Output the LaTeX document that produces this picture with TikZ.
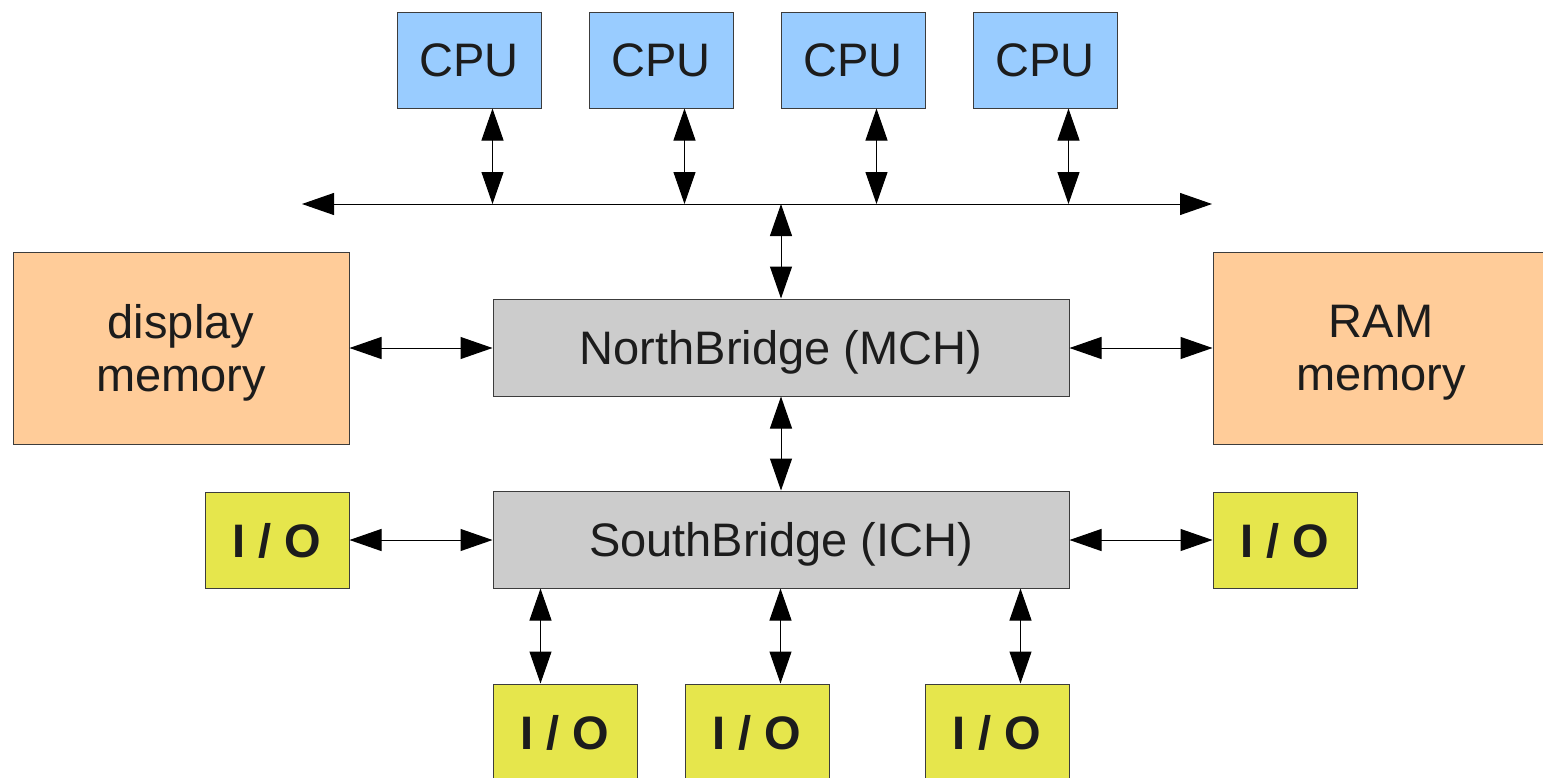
\documentclass[tikz,border=0pt]{standalone}
\usepackage{fontspec}
\setmainfont{Liberation Sans}
\usetikzlibrary{arrows.meta}
\definecolor{cpublue}{HTML}{99CCFF}
\definecolor{memorange}{HTML}{FFCC99}
\definecolor{bridgegray}{HTML}{CCCCCC}
\definecolor{ioyellow}{HTML}{E6E64C}
\definecolor{edgegray}{HTML}{3C3C3C}
\definecolor{textdark}{HTML}{1C1C1C}
\tikzset{
  box/.style={draw=edgegray, line width=0.5pt, inner sep=0pt, align=center,
    text depth=0pt, text=textdark, font=\fontsize{23.5}{26.7}\selectfont},
  cpubox/.style={box, fill=cpublue, minimum width=72pt, minimum height=48pt},
  membox/.style={box, fill=memorange, minimum width=168pt, minimum height=96pt},
  bridgebox/.style={box, fill=bridgegray, minimum width=288pt, minimum height=48.5pt},
  iobox/.style={box, fill=ioyellow, minimum width=72pt, minimum height=48pt,
    font=\fontsize{23.5}{26.7}\selectfont\bfseries},
  biarrow/.style={draw=black, line width=0.5pt,
    {Triangle[length=16pt,width=11pt]}-{Triangle[length=16pt,width=11pt]}}
}
\begin{document}
\begin{tikzpicture}[x=0.5pt,y=-0.5pt]
  \clip (0,0) rectangle (1543,777);
  \fill[white] (0,0) rectangle (1543,777);

  % processors
  \node[cpubox] (cpu1) at (469,60) {CPU};
  \node[cpubox] (cpu2) at (661,60) {CPU};
  \node[cpubox] (cpu3) at (853,60) {CPU};
  \node[cpubox] (cpu4) at (1045,60) {CPU};

  % chipset
  \node[bridgebox] (nb) at (781,347.5) {NorthBridge (MCH)};
  \node[bridgebox] (sb) at (781,539.5) {SouthBridge (ICH)};

  % memories
  \node[membox] (disp) at (181,348) {display\\memory};
  \node[membox] (ram) at (1381,348) {RAM\\memory};

  % peripherals
  \node[iobox] (ioL) at (277,540) {I / O};
  \node[iobox] (ioR) at (1285,540) {I / O};
  \node[iobox] (io1) at (565,732) {I / O};
  \node[iobox] (io2) at (757,732) {I / O};
  \node[iobox] (io3) at (997,732) {I / O};

  % front-side bus
  \coordinate (busL) at (302,204);
  \coordinate (busR) at (1212,204);
  \draw[biarrow] (busL) -- (busR);

  % processors to bus
  \foreach \c in {cpu1,cpu2,cpu3,cpu4}{
    \draw[biarrow] ([xshift=48pt]\c.south west) -- ([xshift=48pt]\c.south west |- busL);
  }

  % bus to north bridge, north to south bridge
  \draw[biarrow] (nb.north |- busL) -- (nb.north);
  \draw[biarrow] (nb.south) -- (sb.north);

  % memories to north bridge
  \draw[biarrow] (disp.east) -- (disp.east -| nb.west);
  \draw[biarrow] (nb.east |- ram.west) -- (ram.west);

  % peripherals to south bridge
  \draw[biarrow] (ioL.east) -- (ioL.east -| sb.west);
  \draw[biarrow] (sb.east |- ioR.west) -- (ioR.west);
  \draw[biarrow] ([xshift=24pt]io1.north west |- sb.south) -- ([xshift=24pt]io1.north west);
  \draw[biarrow] ([xshift=48pt]io2.north west |- sb.south) -- ([xshift=48pt]io2.north west);
  \draw[biarrow] ([xshift=48pt]io3.north west |- sb.south) -- ([xshift=48pt]io3.north west);
\end{tikzpicture}
\end{document}
